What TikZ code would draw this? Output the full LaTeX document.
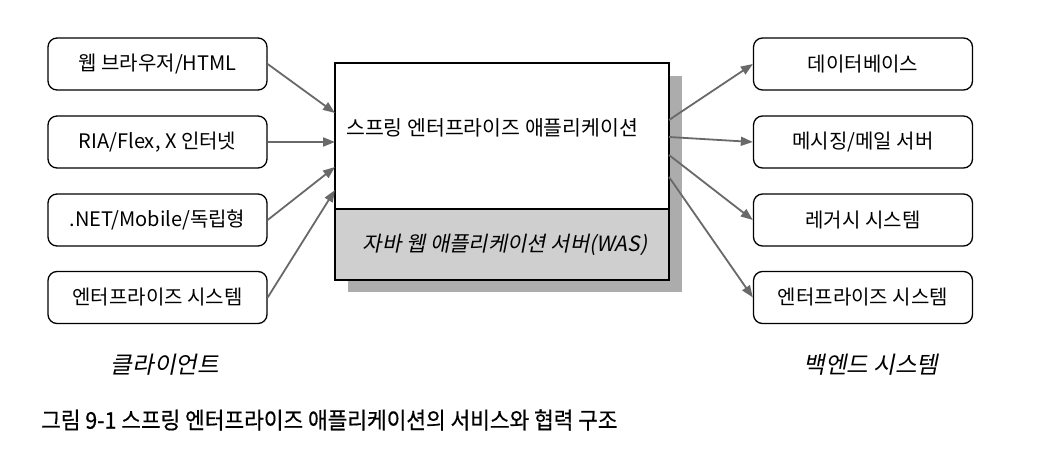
\documentclass[tikz,border=0pt]{standalone}
\usepackage{fontspec}
\setmainfont{Noto Sans CJK KR}
\newfontfamily\krit[FakeSlant=0.2]{Noto Sans CJK KR}
\newfontfamily\krcap[FakeStretch=0.93,FakeBold=0.5]{Noto Sans CJK KR}
\usetikzlibrary{arrows.meta}
\definecolor{arrowgray}{RGB}{105,105,105}
\definecolor{shadowgray}{RGB}{172,172,172}
\definecolor{wasgray}{RGB}{207,207,207}
\begin{document}
\begin{tikzpicture}[x=1pt,y=-1pt,
  sidebox/.style={draw=black, line width=1.3pt, rounded corners=9pt, minimum width=219pt, minimum height=52pt, inner sep=0pt, font=\fontsize{20}{22}\selectfont},
  conn/.style={draw=arrowgray, line width=1.8pt, -{Triangle[length=12pt,width=9pt]}},
  mainbox/.style={draw=black, line width=1.3pt, minimum width=334pt, inner sep=0pt},
  grouplabel/.style={font=\krit\fontsize{23.5}{26}\selectfont, inner sep=0pt},
]
\useasboundingbox[fill=white] (0,0) rectangle (1044,460);

% client boxes
\node[sidebox] (c1) at (157.5,64) {웹 브라우저/HTML};
\node[sidebox] (c2) at (157.5,142) {RIA/Flex, X 인터넷};
\node[sidebox] (c3) at (157.5,220) {.NET/Mobile/독립형};
\node[sidebox] (c4) at (157.5,297.5) {엔터프라이즈 시스템};

% backend boxes
\node[sidebox] (b1) at (863,64) {데이터베이스};
\node[sidebox] (b2) at (863,142) {메시징/메일 서버};
\node[sidebox] (b3) at (863,220) {레거시 시스템};
\node[sidebox] (b4) at (863,297.5) {엔터프라이즈 시스템};

% central box with shadow
\fill[shadowgray] (348,76) rectangle (682,292);
\node[mainbox, fill=white, minimum height=146pt] (app) at (502,136) {};
\node[mainbox, fill=wasgray, minimum height=71pt] (was) at (502,244.5) {};
\node[anchor=west, inner sep=0pt, font=\fontsize{20.5}{23}\selectfont] (apptext) at (346,128) {스프링 엔터프라이즈 애플리케이션};
\node[inner sep=0pt, font=\krit\fontsize{21}{23}\selectfont] (wastext) at ([xshift=3pt]was.center) {자바 웹 애플리케이션 서버(WAS)};

% arrow end points on the central box
\coordinate (in1) at (335,113);
\coordinate (in2) at (335,142);
\coordinate (in3) at (335,167);
\coordinate (in4) at (335,190);
\coordinate (out1) at (669,120);
\coordinate (out2) at (669,137);
\coordinate (out3) at (669,155);
\coordinate (out4) at (669,177);

\draw[conn] (c1.east) -- (in1);
\draw[conn] (c2.east) -- (in2);
\draw[conn] (c3.east) -- (in3);
\draw[conn] (c4.east) -- (in4);
\draw[conn] (out1) -- (b1.west);
\draw[conn] (out2) -- (b2.west);
\draw[conn] (out3) -- (b3.west);
\draw[conn] (out4) -- (b4.west);

% group labels
\node[grouplabel] (lclient) at (165,365) {클라이언트};
\node[grouplabel] (lback) at (871,365) {백엔드 시스템};

% caption
\node[anchor=west, inner sep=0pt, font=\krcap\fontsize{23}{25}\selectfont] (caption) at (41,420) {그림 9-1 스프링 엔터프라이즈 애플리케이션의 서비스와 협력 구조};
\end{tikzpicture}
\end{document}
